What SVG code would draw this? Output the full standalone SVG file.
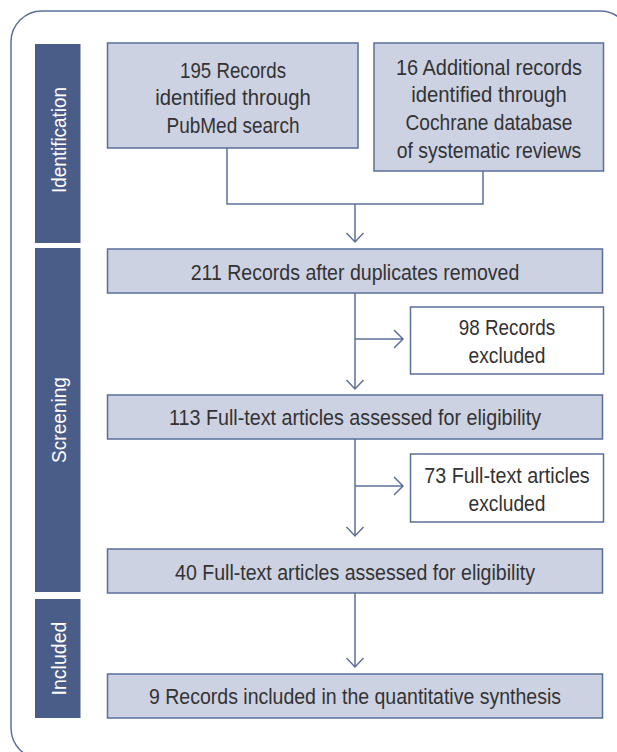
<svg xmlns="http://www.w3.org/2000/svg" width="617" height="752" viewBox="0 0 617 752">
<style>
.frame{fill:none;stroke:#5c6f9b;stroke-width:1.5}
.side{fill:#4a5c88}
.st{font-family:"Liberation Sans Narrow","Liberation Sans",Arial,sans-serif;font-size:20px;fill:#ffffff;text-anchor:middle}
.box{fill:#cdd2e3;stroke:#5b6e9b;stroke-width:1.5}
.wbox{fill:#ffffff;stroke:#5b6e9b;stroke-width:1.5}
.t{font-family:"Liberation Sans Narrow","Liberation Sans",Arial,sans-serif;font-size:21.5px;fill:#333333;text-anchor:middle}
.c{fill:none;stroke:#5f719c;stroke-width:1.5}
</style>
<rect class="frame" x="11" y="11" width="620" height="748" rx="31" ry="31"/>
<g id="side-identification">
<rect class="side" x="35" y="44" width="45.5" height="199"/>
<text class="st" transform="translate(65.5,140) rotate(-90)" textLength="106" lengthAdjust="spacingAndGlyphs">Identification</text>
</g>
<g id="side-screening">
<rect class="side" x="35" y="248" width="45.5" height="344"/>
<text class="st" transform="translate(65.5,420) rotate(-90)" textLength="86" lengthAdjust="spacingAndGlyphs">Screening</text>
</g>
<g id="side-included">
<rect class="side" x="35" y="599" width="45.5" height="119"/>
<text class="st" transform="translate(65.5,658.5) rotate(-90)" textLength="74" lengthAdjust="spacingAndGlyphs">Included</text>
</g>
<g id="n-pubmed">
<rect class="box" x="107.5" y="43" width="250.5" height="105"/>
<text class="t" x="233" y="77.5" textLength="106" lengthAdjust="spacingAndGlyphs">195 Records</text>
<text class="t" x="233" y="105.3" textLength="155.5" lengthAdjust="spacingAndGlyphs">identified through</text>
<text class="t" x="233" y="133.1" textLength="133" lengthAdjust="spacingAndGlyphs">PubMed search</text>
</g>
<g id="n-cochrane">
<rect class="box" x="374" y="43" width="229.5" height="128"/>
<text class="t" x="489" y="74.5" textLength="186" lengthAdjust="spacingAndGlyphs">16 Additional records</text>
<text class="t" x="489" y="102.2" textLength="155.6" lengthAdjust="spacingAndGlyphs">identified through</text>
<text class="t" x="489" y="130" textLength="167" lengthAdjust="spacingAndGlyphs">Cochrane database</text>
<text class="t" x="489" y="157.8" textLength="184.6" lengthAdjust="spacingAndGlyphs">of systematic reviews</text>
</g>
<g id="n-211">
<rect class="box" x="107.5" y="249" width="495" height="44"/>
<text class="t" x="355" y="279.5" textLength="328.7" lengthAdjust="spacingAndGlyphs">211 Records after duplicates removed</text>
</g>
<g id="n-98">
<rect class="wbox" x="410.5" y="307" width="193" height="67"/>
<text class="t" x="507" y="335" textLength="96.4" lengthAdjust="spacingAndGlyphs">98 Records</text>
<text class="t" x="507" y="362.7" textLength="76.8" lengthAdjust="spacingAndGlyphs">excluded</text>
</g>
<g id="n-113">
<rect class="box" x="107.5" y="395" width="495" height="44"/>
<text class="t" x="355" y="425" textLength="372" lengthAdjust="spacingAndGlyphs">113 Full-text articles assessed for eligibility</text>
</g>
<g id="n-73">
<rect class="wbox" x="410.5" y="454" width="193" height="68"/>
<text class="t" x="507" y="483.3" textLength="165.4" lengthAdjust="spacingAndGlyphs">73 Full-text articles</text>
<text class="t" x="507" y="511" textLength="76.8" lengthAdjust="spacingAndGlyphs">excluded</text>
</g>
<g id="n-40">
<rect class="box" x="107.5" y="549" width="495" height="44"/>
<text class="t" x="355" y="579.5" textLength="360" lengthAdjust="spacingAndGlyphs">40 Full-text articles assessed for eligibility</text>
</g>
<g id="n-9">
<rect class="box" x="107.5" y="674" width="495" height="44"/>
<text class="t" x="355" y="704" textLength="412" lengthAdjust="spacingAndGlyphs">9 Records included in the quantitative synthesis</text>
</g>
<g id="connectors">
<path class="c" d="M227,148 V204 H483 V171"/>
<path class="c" d="M355,204 V242 M346.5,233 L355,242 L363.5,233"/>
<path class="c" d="M355,293 V389 M346.5,380 L355,389 L363.5,380"/>
<path class="c" d="M355,339 H403 M394,330 L403,339 L394,348"/>
<path class="c" d="M355,439 V536 M346.5,527 L355,536 L363.5,527"/>
<path class="c" d="M355,486 H403 M394,477 L403,486 L394,495"/>
<path class="c" d="M355,593 V667 M346.5,658 L355,667 L363.5,658"/>
</g>
</svg>
